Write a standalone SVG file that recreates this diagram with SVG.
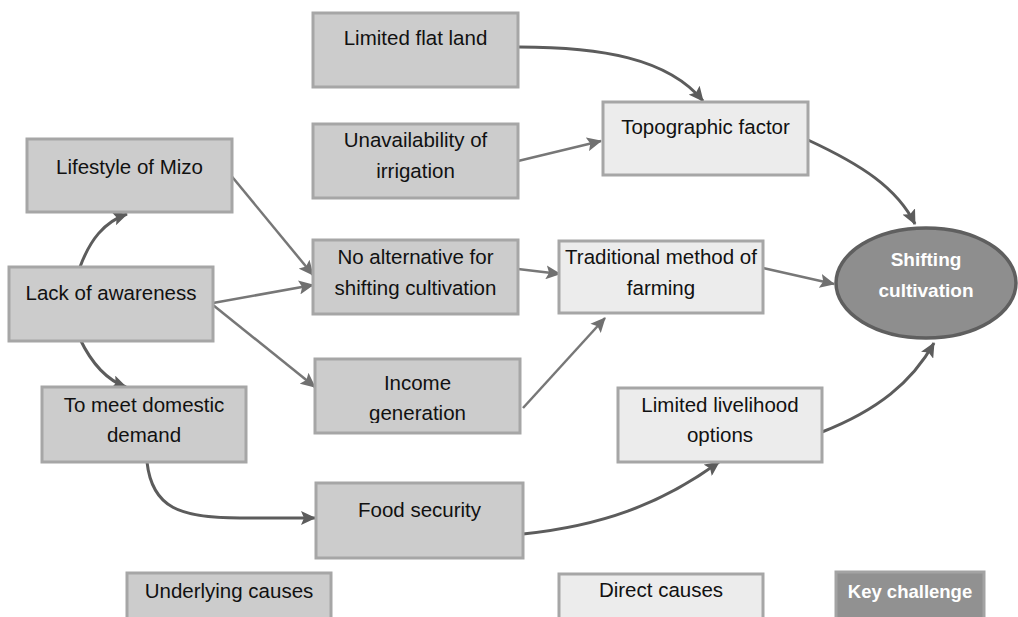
<svg xmlns="http://www.w3.org/2000/svg" width="1018" height="617" viewBox="0 0 1018 617">
<style>
.u{fill:#cccccc;stroke:#a6a6a6;stroke-width:3}
.d{fill:#ececec;stroke:#a6a6a6;stroke-width:3}
.k{fill:#919191;stroke:#a3a3a3;stroke-width:3}
.t{font-family:"Liberation Sans",Arial,sans-serif;font-size:20.5px;fill:#111;text-anchor:middle}
.w{font-family:"Liberation Sans",Arial,sans-serif;font-size:18.5px;font-weight:bold;fill:#fff;text-anchor:middle}
.c{fill:none;stroke:#5c5c5c;stroke-width:3}
.s{fill:none;stroke:#777;stroke-width:2.5}
</style>
<defs>
<marker id="ah" markerUnits="userSpaceOnUse" markerWidth="16" markerHeight="14" refX="14" refY="7" orient="auto">
<path d="M0,0 L15,7 L0,14 L3,7 Z" fill="#5c5c5c"/>
</marker>
<marker id="as" markerUnits="userSpaceOnUse" markerWidth="16" markerHeight="14" refX="14" refY="7" orient="auto">
<path d="M0,0 L15,7 L0,14 L3,7 Z" fill="#707070"/>
</marker>
<clipPath id="incClip"><rect x="315" y="359" width="205" height="64"/></clipPath>
</defs>
<rect width="1018" height="617" fill="#fff"/>
<g id="connectors">
<path class="c" d="M519,47 C600,47 668,58 703,101" marker-end="url(#ah)"/>
<path class="s" d="M518,161 L601,141" marker-end="url(#as)"/>
<path class="c" d="M808,140 C862,165 897,188 915,224" marker-end="url(#ah)"/>
<path class="s" d="M763,268 L834,284" marker-end="url(#as)"/>
<path class="c" d="M822,432 C878,410 912,382 934,343" marker-end="url(#ah)"/>
<path class="s" d="M229,173 L313,275" marker-end="url(#as)"/>
<path class="s" d="M213,303 L313,285" marker-end="url(#as)"/>
<path class="s" d="M213,305 L315,387" marker-end="url(#as)"/>
<path class="c" d="M80,267 C90,240 104,222 127,214" marker-end="url(#ah)"/>
<path class="c" d="M80,339 C90,360 104,379 126,387" marker-end="url(#ah)"/>
<path class="s" d="M518,269 L560,274" marker-end="url(#as)"/>
<path class="s" d="M523,408 L605,318" marker-end="url(#as)"/>
<path class="c" d="M147,462 C152,508 180,518 240,518 L315,518" marker-end="url(#ah)"/>
<path class="c" d="M523,534 C600,526 660,505 719,462" marker-end="url(#ah)"/>
</g>
<g id="limited-flat-land"><rect class="u" x="313" y="13" width="205" height="74"/><text class="t" x="415.5" y="45">Limited flat land</text></g>
<g id="unavailability-irrigation"><rect class="u" x="313" y="124" width="205" height="74"/><text class="t" x="415.5" y="147">Unavailability of</text><text class="t" x="415.5" y="178">irrigation</text></g>
<g id="topographic-factor"><rect class="d" x="603" y="102" width="205" height="73"/><text class="t" x="705.5" y="134">Topographic factor</text></g>
<g id="lifestyle-mizo"><rect class="u" x="27" y="139" width="205" height="73"/><text class="t" x="129.5" y="174">Lifestyle of Mizo</text></g>
<g id="lack-awareness"><rect class="u" x="9" y="267" width="204" height="74"/><text class="t" x="111" y="300">Lack of awareness</text></g>
<g id="no-alternative"><rect class="u" x="313" y="240" width="205" height="74"/><text class="t" x="415.5" y="264">No alternative for</text><text class="t" x="415.5" y="295">shifting cultivation</text></g>
<g id="traditional-method"><rect class="d" x="559" y="241" width="204" height="72"/><text class="t" x="661" y="264">Traditional method of</text><text class="t" x="661" y="295">farming</text></g>
<g id="income-generation"><rect class="u" x="315" y="359" width="205" height="74"/><g clip-path="url(#incClip)"><text class="t" x="417.5" y="390">Income</text><text class="t" x="417.5" y="420">generation</text></g></g>
<g id="domestic-demand"><rect class="u" x="42" y="387" width="204" height="75"/><text class="t" x="144" y="412">To meet domestic</text><text class="t" x="144" y="442">demand</text></g>
<g id="limited-livelihood"><rect class="d" x="618" y="388" width="204" height="74"/><text class="t" x="720" y="412">Limited livelihood</text><text class="t" x="720" y="442">options</text></g>
<g id="food-security"><rect class="u" x="316" y="483" width="207" height="75"/><text class="t" x="419.5" y="517">Food security</text></g>
<g id="shifting-cultivation"><ellipse cx="926" cy="283" rx="90" ry="55" fill="#8e8e8e" stroke="#5f5f5f" stroke-width="3.5"/><text class="w" x="926" y="266" style="font-size:19px">Shifting</text><text class="w" x="926" y="297" style="font-size:19px">cultivation</text></g>
<g id="legend-underlying"><rect class="u" x="127" y="573" width="204" height="60"/><text class="t" x="229" y="598">Underlying causes</text></g>
<g id="legend-direct"><rect class="d" x="559" y="574" width="204" height="60"/><text class="t" x="661" y="597">Direct causes</text></g>
<g id="legend-key"><rect class="k" x="836" y="572" width="148" height="60"/><text class="w" x="910" y="598">Key challenge</text></g>
</svg>
